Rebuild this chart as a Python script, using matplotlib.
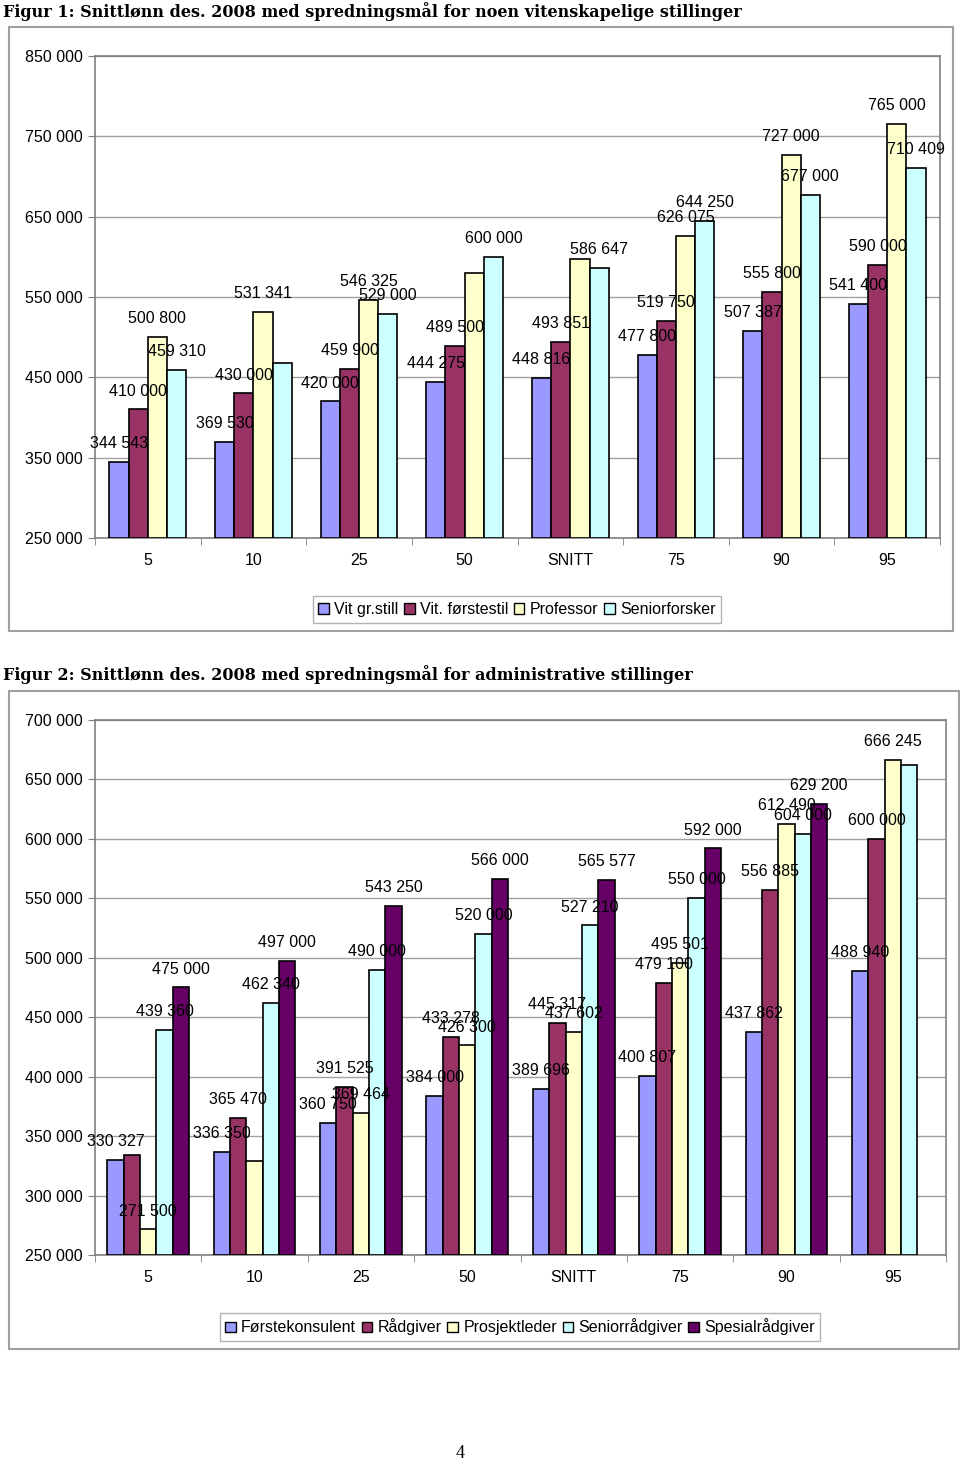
import matplotlib
matplotlib.use('Agg')
import matplotlib.pyplot as plt
from matplotlib.patches import Patch, Rectangle
from matplotlib.ticker import FuncFormatter, FixedLocator
import numpy as np

# ---------------- data ----------------
categories = ['5', '10', '25', '50', 'SNITT', '75', '90', '95']

# Figur 1
fig1_series = ['Vit gr.still', 'Vit. førstestil', 'Professor', 'Seniorforsker']
vit_gr_still = [344543, 369530, 420000, 444275, 448816, 477800, 507387, 541400]
vit_forstestil = [410000, 430000, 459900, 489500, 493851, 519750, 555800, 590000]
professor = [500800, 531341, 546325, 579500, 597000, 626075, 727000, 765000]
seniorforsker = [459310, 467500, 529000, 600000, 586647, 644250, 677000, 710409]
fig1_labeled = [
    [1, 1, 1, 1, 1, 1, 1, 1],
    [1, 1, 1, 1, 1, 1, 1, 1],
    [1, 1, 1, 0, 0, 1, 1, 1],
    [1, 0, 1, 1, 1, 1, 1, 1],
]

# Figur 2
fig2_series = ['Førstekonsulent', 'Rådgiver', 'Prosjektleder', 'Seniorrådgiver', 'Spesialrådgiver']
forstekonsulent = [330327, 336350, 360750, 384000, 389696, 400807, 437862, 488940]
radgiver = [334000, 365470, 391525, 433278, 445317, 479100, 556885, 600000]
prosjektleder = [271500, 329000, 369464, 426300, 437602, 495501, 612490, 666245]
seniorradgiver = [439360, 462340, 490000, 520000, 527210, 550000, 604000, 662000]
spesialradgiver = [475000, 497000, 543250, 566000, 565577, 592000, 629200, None]
fig2_labeled = [
    [1, 1, 1, 1, 1, 1, 1, 1],
    [0, 1, 1, 1, 1, 1, 1, 1],
    [1, 0, 1, 1, 1, 1, 1, 1],
    [1, 1, 1, 1, 1, 1, 1, 0],
    [1, 1, 1, 1, 1, 1, 1, 0],
]

title1 = 'Figur 1: Snittlønn des. 2008 med spredningsmål for noen vitenskapelige stillinger'
title2 = 'Figur 2: Snittlønn des. 2008 med spredningsmål for administrative stillinger'

colors4 = ['#9999FF', '#993366', '#FFFFCC', '#CCFFFF']
colors5 = ['#9999FF', '#993366', '#FFFFCC', '#CCFFFF', '#660066']

# ---------------- figure ----------------
W, H = 960, 1461
fig = plt.figure(figsize=(W / 100, H / 100), dpi=100)
fig.patch.set_facecolor('white')

SANS = ['Liberation Sans', 'DejaVu Sans']
FS = 11.5


def fmt(v):
    return f"{int(round(v)):,}".replace(',', ' ')


def px_rect(x0, y0, x1, y1):
    return [x0 / W, 1 - y1 / H, (x1 - x0) / W, (y1 - y0) / H]


def draw_chart(rect, series_vals, names, colors, labeled, ymin, ymax, ystep):
    ax = fig.add_axes(rect)
    n = len(series_vals)
    x = np.arange(len(categories))
    w = 1.0 / (n + 1.5)
    for i, vals in enumerate(series_vals):
        v = np.array([np.nan if a is None else a for a in vals], dtype=float)
        xs = x + (i - (n - 1) / 2) * w
        ax.bar(xs, v - ymin, width=w, bottom=ymin, color=colors[i],
               edgecolor='black', linewidth=1.2, zorder=3, label=names[i])
        for j, val in enumerate(v):
            if np.isnan(val) or not labeled[i][j]:
                continue
            ax.annotate(fmt(val), (xs[j], val), xytext=(0, 10),
                        textcoords='offset points', ha='center', va='baseline',
                        fontsize=FS, family=SANS, zorder=5, clip_on=False)
    ax.set_xlim(-0.5, len(categories) - 0.5)
    ax.set_ylim(ymin, ymax)
    ax.yaxis.set_major_locator(FixedLocator(np.arange(ymin, ymax + 1, ystep)))
    ax.yaxis.set_major_formatter(FuncFormatter(lambda v, p: fmt(v)))
    ax.set_xticks(x)
    ax.set_xticklabels(categories)
    ax.xaxis.set_minor_locator(FixedLocator(np.arange(-0.5, len(categories), 1.0)))
    ax.tick_params(axis='x', which='major', length=0, pad=11, labelsize=FS)
    ax.tick_params(axis='x', which='minor', length=5, direction='out', color='#808080')
    ax.tick_params(axis='y', which='major', length=5, direction='out', color='#808080',
                   pad=4, labelsize=FS)
    for lab in ax.get_xticklabels() + ax.get_yticklabels():
        lab.set_family(SANS)
    ax.grid(axis='y', color='#A0A0A0', linewidth=1.0, zorder=0)
    ax.set_axisbelow(True)
    for s in ax.spines.values():
        s.set_color('#808080')
        s.set_linewidth(1.2)
    return ax


# Frames
for (x0, y0, x1, y1) in [(9, 27, 953, 631), (9, 691, 959, 1349)]:
    fig.patches.append(Rectangle((x0 / W, 1 - y1 / H), (x1 - x0) / W, (y1 - y0) / H,
                                 transform=fig.transFigure, fill=False,
                                 edgecolor='#A0A0A0', linewidth=1.5))

ax1 = draw_chart(px_rect(95, 56, 940, 538),
                 [vit_gr_still, vit_forstestil, professor, seniorforsker],
                 fig1_series, colors4, fig1_labeled, 250000, 850000, 100000)
ax2 = draw_chart(px_rect(95, 720, 946, 1255),
                 [forstekonsulent, radgiver, prosjektleder, seniorradgiver, spesialradgiver],
                 fig2_series, colors5, fig2_labeled, 250000, 700000, 50000)


def add_legend(names, colors, cx, cy):
    handles = [Patch(facecolor=c, edgecolor='black', linewidth=1.0) for c in colors]
    leg = fig.legend(handles, names, loc='center', bbox_to_anchor=(cx / W, 1 - cy / H),
                     ncol=len(names), frameon=True, fancybox=False, edgecolor='#A0A0A0',
                     handlelength=0.65, handleheight=0.65, handletextpad=0.35,
                     columnspacing=0.35, borderpad=0.35,
                     prop={'family': SANS, 'size': FS})
    leg.get_frame().set_linewidth(1.0)
    return leg


add_legend(fig1_series, colors4, 517, 609.5)
add_legend(fig2_series, colors5, 520, 1327)

TFONT = ['DejaVu Serif']
fig.text(3 / W, 1 - 17 / H, title1, fontsize=11.5, fontweight='bold', family=TFONT,
         ha='left', va='baseline')
fig.text(3 / W, 1 - 680 / H, title2, fontsize=11.5, fontweight='bold', family=TFONT,
         ha='left', va='baseline')
fig.text(460 / W, 1 - 1458 / H, '4', fontsize=13, family=['Liberation Serif'],
         ha='center', va='baseline')

fig.savefig('out.png', dpi=100, facecolor='white')
